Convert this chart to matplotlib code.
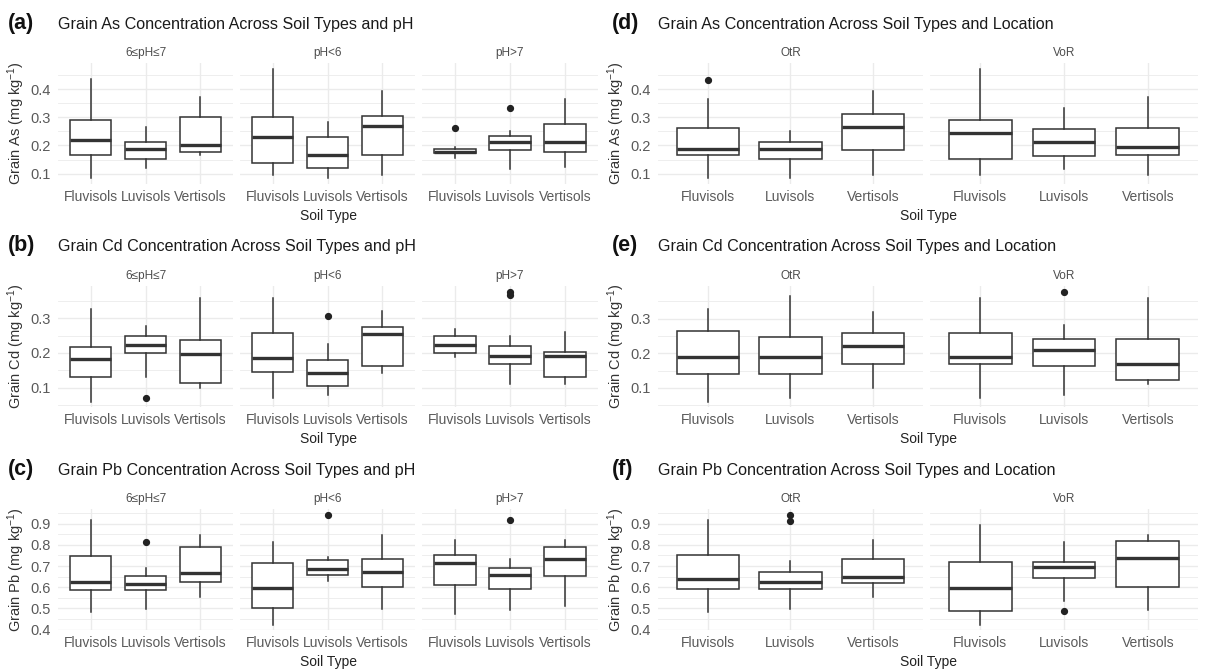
import matplotlib
matplotlib.use("Agg")
import matplotlib.pyplot as plt
from matplotlib.ticker import FixedLocator, NullFormatter
import numpy as np

plt.rcParams['font.family'] = ['Liberation Sans', 'DejaVu Sans']
plt.rcParams['mathtext.fontset'] = 'custom'
plt.rcParams['mathtext.rm'] = 'Liberation Sans'
plt.rcParams['mathtext.it'] = 'Liberation Sans:italic'

# ---------------- data ----------------
soils = ["Fluvisols", "Luvisols", "Vertisols"]
ph_groups = ["6≤pH≤7", "pH<6", "pH>7"]
locations = ["OtR", "VoR"]

# (a) Grain As by pH  -- one inner list per facet, values per soil
as_ph_lower = [[0.083, 0.121, 0.165], [0.095, 0.083, 0.095], [0.155, 0.115, 0.122]]
as_ph_q1 = [[0.166, 0.152, 0.176], [0.138, 0.120, 0.166], [0.172, 0.183, 0.176]]
as_ph_med = [[0.220, 0.186, 0.203], [0.231, 0.168, 0.269], [0.177, 0.213, 0.213]]
as_ph_q3 = [[0.291, 0.211, 0.301], [0.301, 0.229, 0.305], [0.186, 0.233, 0.277]]
as_ph_upper = [[0.435, 0.265, 0.372], [0.473, 0.285, 0.393], [0.193, 0.253, 0.364]]
as_ph_out = [[[], [], []], [[], [], []], [[0.263], [0.333], []]]

# (b) Grain Cd by pH
cd_ph_lower = [[0.061, 0.130, 0.100], [0.071, 0.081, 0.143], [0.189, 0.111, 0.111]]
cd_ph_q1 = [[0.132, 0.201, 0.115], [0.146, 0.105, 0.164], [0.200, 0.169, 0.130]]
cd_ph_med = [[0.182, 0.222, 0.196], [0.186, 0.142, 0.255], [0.222, 0.190, 0.190]]
cd_ph_q3 = [[0.216, 0.248, 0.236], [0.258, 0.179, 0.273], [0.248, 0.219, 0.203]]
cd_ph_upper = [[0.327, 0.278, 0.358], [0.358, 0.225, 0.319], [0.269, 0.248, 0.260]]
cd_ph_out = [[[], [0.070], []], [[], [0.306], []], [[], [0.365, 0.376], []]]

# (c) Grain Pb by pH
pb_ph_lower = [[0.482, 0.495, 0.553], [0.424, 0.631, 0.495], [0.473, 0.492, 0.512]]
pb_ph_q1 = [[0.585, 0.587, 0.625], [0.500, 0.656, 0.599], [0.610, 0.593, 0.653]]
pb_ph_med = [[0.625, 0.614, 0.666], [0.595, 0.685, 0.671], [0.715, 0.656, 0.735]]
pb_ph_q3 = [[0.745, 0.652, 0.792], [0.713, 0.726, 0.735], [0.750, 0.690, 0.792]]
pb_ph_upper = [[0.916, 0.691, 0.848], [0.813, 0.742, 0.848], [0.824, 0.734, 0.824]]
pb_ph_out = [[[], [0.811], []], [[], [0.943], []], [[], [0.917], []]]

# (d) Grain As by location
as_loc_lower = [[0.083, 0.083, 0.094], [0.094, 0.115, 0.094]]
as_loc_q1 = [[0.165, 0.152, 0.183], [0.152, 0.163, 0.168]]
as_loc_med = [[0.189, 0.186, 0.265], [0.244, 0.213, 0.196]]
as_loc_q3 = [[0.261, 0.211, 0.311], [0.291, 0.257, 0.261]]
as_loc_upper = [[0.364, 0.253, 0.393], [0.473, 0.333, 0.372]]
as_loc_out = [[[0.433], [], []], [[], [], []]]

# (e) Grain Cd by location
cd_loc_lower = [[0.061, 0.071, 0.100], [0.071, 0.081, 0.111]]
cd_loc_q1 = [[0.141, 0.141, 0.169], [0.169, 0.162, 0.124]]
cd_loc_med = [[0.190, 0.190, 0.222], [0.190, 0.210, 0.170]]
cd_loc_q3 = [[0.265, 0.248, 0.259], [0.258, 0.240, 0.242]]
cd_loc_upper = [[0.327, 0.366, 0.319], [0.358, 0.281, 0.358]]
cd_loc_out = [[[], [], []], [[], [0.378], []]]

# (f) Grain Pb by location
pb_loc_lower = [[0.482, 0.495, 0.553], [0.424, 0.535, 0.492]]
pb_loc_q1 = [[0.591, 0.591, 0.620], [0.490, 0.644, 0.603]]
pb_loc_med = [[0.637, 0.625, 0.647], [0.596, 0.693, 0.739]]
pb_loc_q3 = [[0.750, 0.671, 0.732], [0.720, 0.720, 0.818]]
pb_loc_upper = [[0.916, 0.723, 0.822], [0.895, 0.815, 0.845]]
pb_loc_out = [[[], [0.914, 0.943], []], [[], [0.490], []]]

yticks_as = [0.1, 0.2, 0.3, 0.4]
yticks_cd = [0.1, 0.2, 0.3]
yticks_pb = [0.4, 0.5, 0.6, 0.7, 0.8, 0.9]

# ---------------- layout ----------------
W, H = 1208, 670
fig = plt.figure(figsize=(W / 100, H / 100), dpi=100)
fig.patch.set_facecolor("white")

LEFT_FACETS = [(58, 233), (240, 415), (422, 598)]
RIGHT_FACETS = [(658, 923), (930, 1198)]
ROWS = [(63, 184), (286, 407), (509, 630)]

GRID = "#EBEBEB"
TXT = "#4D4D4D"
EDGE = "#333333"


def draw_panel(letter, title, ylabel, facets, facet_px, row_px, lower, q1, med, q3,
               upper, outliers, yticks, letter_x, title_x, ylabel_x):
    allv = [v for f in lower for v in f] + [v for f in upper for v in f] + \
           [v for f in outliers for s in f for v in s]
    lo, hi = min(allv), max(allv)
    pad = 0.05 * (hi - lo)
    ylim = (lo - pad, hi + pad)
    step = yticks[1] - yticks[0]
    minor = np.arange(yticks[0] - step / 2, ylim[1], step)
    minor = [m for m in minor if ylim[0] <= m <= ylim[1]]
    y0, y1 = row_px
    for i, (name, (x0, x1)) in enumerate(zip(facets, facet_px)):
        ax = fig.add_axes([x0 / W, 1 - y1 / H, (x1 - x0) / W, (y1 - y0) / H])
        stats = []
        for j, s in enumerate(soils):
            stats.append(dict(whislo=lower[i][j], q1=q1[i][j], med=med[i][j],
                              q3=q3[i][j], whishi=upper[i][j], fliers=outliers[i][j],
                              label=s))
        ax.bxp(stats, positions=[1, 2, 3], widths=0.75, showcaps=False,
               patch_artist=True,
               boxprops=dict(facecolor="white", edgecolor=EDGE, linewidth=1.1),
               whiskerprops=dict(color=EDGE, linewidth=1.1),
               medianprops=dict(color=EDGE, linewidth=2.4, solid_capstyle="butt"),
               flierprops=dict(marker="o", markerfacecolor="#222222",
                               markeredgecolor="#222222", markersize=4.2))
        ax.set_xlim(0.4, 3.6)
        ax.set_ylim(*ylim)
        ax.yaxis.set_major_locator(FixedLocator(yticks))
        ax.yaxis.set_minor_locator(FixedLocator(minor))
        ax.yaxis.set_minor_formatter(NullFormatter())
        ax.set_axisbelow(True)
        ax.grid(True, which="major", axis="both", color=GRID, linewidth=1.0)
        ax.grid(True, which="minor", axis="y", color=GRID, linewidth=0.6)
        for sp in ax.spines.values():
            sp.set_visible(False)
        ax.tick_params(which="both", length=0)
        ax.tick_params(axis="x", pad=4.5, labelsize=10, labelcolor="#5a5a5a")
        ax.tick_params(axis="y", pad=5.5, labelsize=10.5, labelcolor="#5a5a5a")
        ax.set_xticks([1, 2, 3])
        ax.set_xticklabels(soils)
        if i == 0:
            ax.set_yticklabels([f"{t:.1f}" for t in yticks])
        else:
            ax.set_yticklabels([])
        ax.text(0.5, 1.0 + 10 / (y1 - y0), name, transform=ax.transAxes,
                ha="center", va="center", fontsize=8.5, color=TXT)
    # panel letter and title
    fig.text(letter_x / W, 1 - (y0 - 40) / H, letter, fontsize=15.5,
             fontweight="bold", ha="left", va="center", color="#111111")
    fig.text(title_x / W, 1 - (y0 - 39) / H, title, fontsize=11.6,
             ha="left", va="center", color="#1a1a1a")
    # y label
    fig.text(ylabel_x / W, 1 - ((y0 + y1) / 2) / H, ylabel, rotation=90,
             fontsize=10.5, ha="center", va="center", color="#333333")
    # x label
    cx = (facet_px[0][0] + facet_px[-1][1]) / 2
    fig.text(cx / W, 1 - (y1 + 32) / H, "Soil Type", fontsize=10,
             ha="center", va="center", color="#222222")


draw_panel("(a)", "Grain As Concentration Across Soil Types and pH",
           r"Grain As (mg kg$^{-1}$)", ph_groups, LEFT_FACETS, ROWS[0],
           as_ph_lower, as_ph_q1, as_ph_med, as_ph_q3, as_ph_upper, as_ph_out,
           yticks_as, 8, 58, 16)
draw_panel("(b)", "Grain Cd Concentration Across Soil Types and pH",
           r"Grain Cd (mg kg$^{-1}$)", ph_groups, LEFT_FACETS, ROWS[1],
           cd_ph_lower, cd_ph_q1, cd_ph_med, cd_ph_q3, cd_ph_upper, cd_ph_out,
           yticks_cd, 8, 58, 16)
draw_panel("(c)", "Grain Pb Concentration Across Soil Types and pH",
           r"Grain Pb (mg kg$^{-1}$)", ph_groups, LEFT_FACETS, ROWS[2],
           pb_ph_lower, pb_ph_q1, pb_ph_med, pb_ph_q3, pb_ph_upper, pb_ph_out,
           yticks_pb, 8, 58, 16)
draw_panel("(d)", "Grain As Concentration Across Soil Types and Location",
           r"Grain As (mg kg$^{-1}$)", locations, RIGHT_FACETS, ROWS[0],
           as_loc_lower, as_loc_q1, as_loc_med, as_loc_q3, as_loc_upper, as_loc_out,
           yticks_as, 612, 658, 616)
draw_panel("(e)", "Grain Cd Concentration Across Soil Types and Location",
           r"Grain Cd (mg kg$^{-1}$)", locations, RIGHT_FACETS, ROWS[1],
           cd_loc_lower, cd_loc_q1, cd_loc_med, cd_loc_q3, cd_loc_upper, cd_loc_out,
           yticks_cd, 612, 658, 616)
draw_panel("(f)", "Grain Pb Concentration Across Soil Types and Location",
           r"Grain Pb (mg kg$^{-1}$)", locations, RIGHT_FACETS, ROWS[2],
           pb_loc_lower, pb_loc_q1, pb_loc_med, pb_loc_q3, pb_loc_upper, pb_loc_out,
           yticks_pb, 612, 658, 616)

fig.savefig("out.png", dpi=100, facecolor="white")
